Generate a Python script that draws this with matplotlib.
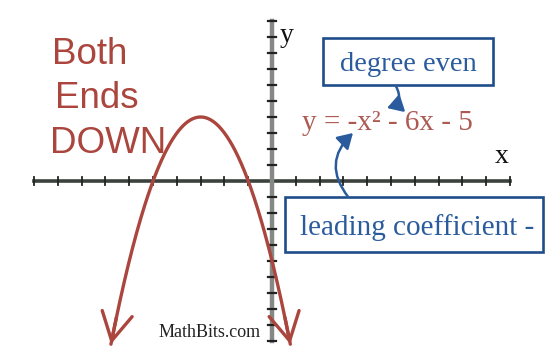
import matplotlib
matplotlib.use("Agg")
import matplotlib.pyplot as plt
import numpy as np
from matplotlib.patches import Rectangle

# y = a x^2 + b x + c
coef = [-1, -6, -5]
x_ticks = list(range(-10, 11))
y_ticks = list(range(-10, 11))
y_floor = -10.2  # curve is cut where it reaches this level

ends_text = ["Both", "Ends", "DOWN"]
equation = "y = -x\u00b2 - 6x - 5"
degree_label = "degree even"
lead_label = "leading coefficient -"
credit = "MathBits.com"

red = "#ab463e"
blue = "#2a5b9c"
axis_col = "#3b423d"

fig = plt.figure(figsize=(5.46, 3.51), dpi=100)
ax = fig.add_axes([0, 0, 1, 1])
ax.set_xlim(-11.43, 11.51)
ax.set_ylim(-10.625, 11.3125)
ax.axis("off")

# axes with ticks
ax.plot([x_ticks[0], x_ticks[-1]], [0, 0], color=axis_col, lw=2.6, zorder=2)
ax.plot([0, 0], [y_ticks[0], y_ticks[-1]], color="#858985", lw=3.2, zorder=2)
for t in x_ticks:
    if t != 0:
        ax.plot([t, t], [-0.25, 0.25], color="#222222", lw=1.3, zorder=3)
for t in y_ticks:
    if t != 0:
        ax.plot([-0.17, 0.17], [t, t], color="#222222", lw=1.6, zorder=3)

# parabola between the two points where it hits y_floor
a, b, c = coef
roots = np.sort(np.roots([a, b, c - y_floor]).real)
xs = np.linspace(roots[0], roots[1], 400)
ys = np.polyval(coef, xs)
ax.plot(xs, ys, color=red, lw=2.4, zorder=4, solid_capstyle="round")
for i0, i1 in [(12, 0), (-13, -1)]:
    ax.annotate("", xy=(xs[i1], ys[i1]), xytext=(xs[i0], ys[i0]),
                arrowprops=dict(arrowstyle="->,head_length=1.0,head_width=0.55",
                                color=red, lw=2.4, mutation_scale=20,
                                shrinkA=0, shrinkB=0), zorder=4)

# Both / Ends / DOWN
for txt, (tx, ty) in zip(ends_text, [(-9.24, 7.31), (-9.12, 4.56), (-9.33, 1.75)]):
    ax.text(tx, ty, txt, color=red, fontsize=26.5, family="Liberation Sans",
            ha="left", va="baseline", zorder=5)

ax.text(1.26, 3.2, equation, color="#ad5a53", fontsize=21,
        family="Liberation Serif", ha="left", va="baseline", zorder=5)

ax.text(9.66, 1.13, "x", color="#111111", fontsize=20,
        family="Liberation Serif", ha="center", va="baseline")
ax.text(0.6, 8.7, "y", color="#111111", fontsize=20,
        family="Liberation Serif", ha="center", va="baseline")

# boxes
ax.add_patch(Rectangle((2.14, 6.0), 7.15, 2.94, fill=False, ec="#1f4c8a",
                       lw=1.9, zorder=5))
ax.text(5.72, 6.85, degree_label, color=blue, fontsize=20.5,
        family="Liberation Serif", ha="center", va="baseline", zorder=6)

ax.add_patch(Rectangle((0.55, -4.44), 10.84, 3.44, fill=True, fc="white",
                       ec="#1f4c8a", lw=1.9, zorder=5))
ax.text(1.18, -3.38, lead_label, color=blue, fontsize=21,
        family="Liberation Serif", ha="left", va="baseline", zorder=6)

# curved pointers
ax.annotate("", xy=(4.83, 4.56), xytext=(5.2, 5.94),
            arrowprops=dict(arrowstyle="-|>,head_length=0.5,head_width=0.3",
                            connectionstyle="arc3,rad=-0.6", color=blue,
                            lw=1.8, mutation_scale=18, shrinkA=0, shrinkB=0),
            zorder=6)
ax.annotate("", xy=(3.4, 3.0), xytext=(3.2, -1.0),
            arrowprops=dict(arrowstyle="-|>,head_length=0.5,head_width=0.3",
                            connectionstyle="arc3,rad=-0.45", color=blue,
                            lw=1.8, mutation_scale=18, shrinkA=0, shrinkB=0),
            zorder=6)

ax.text(-0.5, -9.75, credit, color="#222222", fontsize=13,
        family="Liberation Serif", ha="right", va="baseline")

fig.savefig("out.png", dpi=100)
